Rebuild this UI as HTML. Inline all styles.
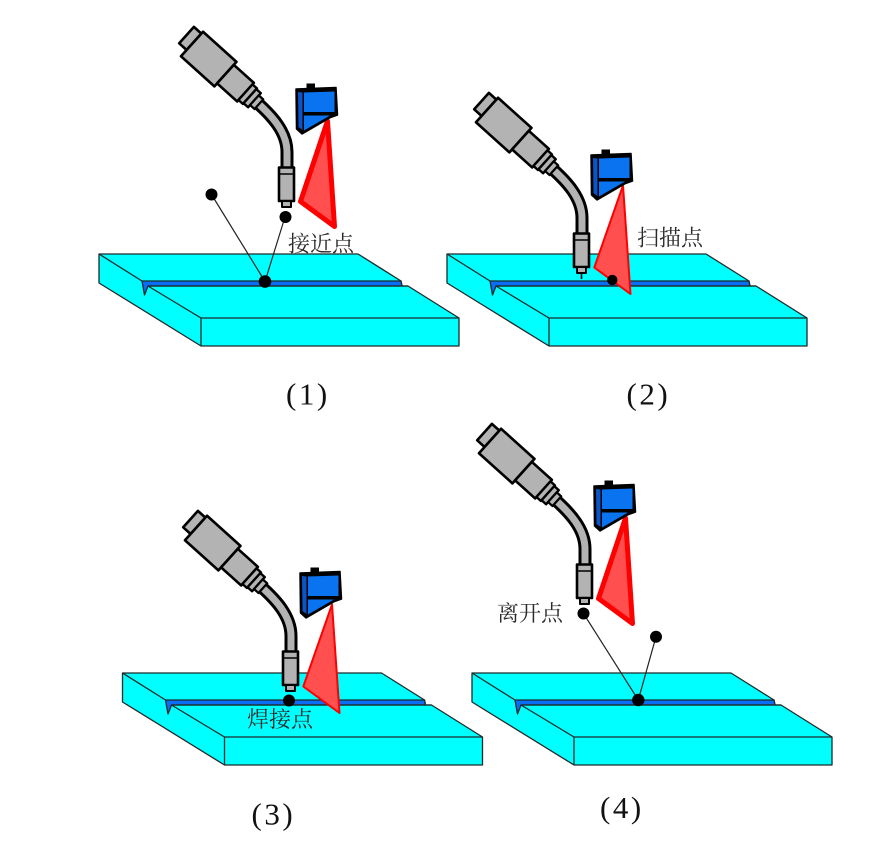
<!DOCTYPE html>
<html>
<head>
<meta charset="utf-8">
<style>
  html, body { margin: 0; padding: 0; background: #ffffff; }
  svg { display: block; }
  .lbl { font-family: "Liberation Serif", "Noto Serif CJK SC", serif; font-size: 22px; fill: #2a2a2a; }
  .num { font-family: "Liberation Serif", "Noto Serif CJK SC", serif; font-size: 31px; fill: #111; letter-spacing: 2.5px; }
</style>
</head>
<body>
<svg width="885" height="861" viewBox="0 0 885 861" xmlns="http://www.w3.org/2000/svg">
  <defs>
    <g id="plate">
      <polygon points="99,254 358,254 401,281 402,286 408,286 459,318 459,346 201,346 99,283" fill="#00ffff" stroke="#1e2a2a" stroke-width="1.3" stroke-linejoin="round"/>
      <polygon points="142,281 401,281 402,286 148,286 144.5,295" fill="#0a6ef5" stroke="#1e2a2a" stroke-width="1.3" stroke-linejoin="round"/>
      <polyline points="99,254 142,281" fill="none" stroke="#1e2a2a" stroke-width="1.3"/>
      <polyline points="148,286 201,318 459,318" fill="none" stroke="#1e2a2a" stroke-width="1.3"/>
      <line x1="201" y1="318" x2="201" y2="346" stroke="#1e2a2a" stroke-width="1.3"/>
      <line x1="148" y1="286" x2="408" y2="286" stroke="#1e2a2a" stroke-width="1.3"/>
    </g>

    <g id="torch" stroke-linejoin="round">
      <path d="M257.4,102.9 C272,116 287,132 287,152 L287,170" fill="none" stroke="#000" stroke-width="13"/>
      <path d="M257.4,102.9 C272,116 287,132 287,152 L287,170" fill="none" stroke="#b3b3b3" stroke-width="7"/>
      <polygon points="193.9,26.9 201.4,33.6 186.6,50.0 179.2,43.3" fill="#b3b3b3" stroke="#000" stroke-width="2.6"/>
      <polygon points="203.04,31.74 236.48,61.85 214.40,86.37 180.96,56.26" fill="#b3b3b3" stroke="#000" stroke-width="2.6"/>
      <polygon points="233.8,64.82 253.86,82.88 237.14,101.46 217.08,83.4" fill="#b3b3b3" stroke="#000" stroke-width="2.6"/>
      <polygon points="252.52,84.37 256.97,88.38 242.93,103.98 238.48,99.97" fill="#b3b3b3" stroke="#000" stroke-width="2.4"/>
      <polygon points="256.31,89.12 260.77,93.14 248.05,107.26 243.59,103.24" fill="#b3b3b3" stroke="#000" stroke-width="2.4"/>
      <polygon points="258.76,95.37 263.22,99.38 254.52,109.04 250.06,105.03" fill="#b3b3b3" stroke="#000" stroke-width="2.2"/>
      <rect x="279" y="167.5" width="15" height="33.5" fill="#b3b3b3" stroke="#000" stroke-width="2.6"/>
      <line x1="279" y1="174" x2="294" y2="174" stroke="#000" stroke-width="1.5"/>
      <rect x="282" y="201" width="9" height="6" fill="#b3b3b3" stroke="#000" stroke-width="2"/>
    </g>

    <g id="sensor">
      <rect x="306.5" y="83.5" width="8.5" height="5.5" fill="#000"/>
      <polygon points="296,89 336,87.5 337.5,115 330.5,117.5 302,134 296.5,129" fill="#000" stroke="#000" stroke-width="1.5" stroke-linejoin="round"/>
      <polygon points="298,92 302.5,92.5 302.5,130 298.5,127" fill="#0a55c8"/>
      <polygon points="304,92.5 334.5,91.5 334.5,112 304,112" fill="#0a73f0"/>
      <polygon points="304,115.5 330,115.5 304,130.5" fill="#0a73f0"/>
    </g>

    <polygon id="laserThick" points="327.5,121 300.5,201.5 334.5,226.5" fill="#ff4f4f" stroke="#ff0000" stroke-width="5" stroke-linejoin="round"/>
    <polygon id="laserThin" points="328,119.5 299.3,201.5 335.5,228" fill="#ff4f4f" stroke="#ff0000" stroke-width="2" stroke-linejoin="round"/>
  </defs>

  <rect x="0" y="0" width="885" height="861" fill="#ffffff"/>

  <!-- Panel 1 -->
  <use href="#plate"/>
  <line x1="211.5" y1="194.5" x2="265" y2="281.5" stroke="#222" stroke-width="1.2"/>
  <line x1="285" y1="217" x2="265" y2="281.5" stroke="#222" stroke-width="1.2"/>
  <use href="#torch"/>
  <use href="#laserThick"/>
  <use href="#sensor"/>
  <circle cx="211.5" cy="194.5" r="6" fill="#000"/>
  <circle cx="285.5" cy="217" r="6" fill="#000"/>
  <circle cx="265" cy="281.5" r="6.3" fill="#000"/>
  <text class="lbl" x="288" y="251.5">接近点</text>
  <text class="num" x="286" y="404.5">(1)</text>

  <!-- Panel 2 -->
  <g transform="translate(348,0)"><use href="#plate"/></g>
  <g transform="translate(295,66)">
    <use href="#torch"/>
    <line x1="286.5" y1="207" x2="286.5" y2="213" stroke="#000" stroke-width="1.6"/>
    <use href="#laserThin"/>
    <use href="#sensor"/>
  </g>
  <circle cx="612.3" cy="280" r="5.2" fill="#000"/>
  <text class="lbl" x="637" y="245.5">扫描点</text>
  <text class="num" x="626.5" y="404.5">(2)</text>

  <!-- Panel 3 -->
  <g transform="translate(23.5,419)"><use href="#plate"/></g>
  <g transform="translate(4,484)">
    <use href="#torch"/>
  </g>
  <g transform="translate(4,485)">
    <use href="#laserThin"/>
  </g>
  <g transform="translate(4,484)">
    <use href="#sensor"/>
  </g>
  <circle cx="289" cy="700.5" r="6" fill="#000"/>
  <text class="lbl" x="247" y="727">焊接点</text>
  <text class="num" x="251.5" y="824.5">(3)</text>

  <!-- Panel 4 -->
  <g transform="translate(373,419)"><use href="#plate"/></g>
  <line x1="583.5" y1="613.5" x2="638.3" y2="700" stroke="#222" stroke-width="1.2"/>
  <line x1="656" y1="636.7" x2="638.3" y2="700" stroke="#222" stroke-width="1.2"/>
  <g transform="translate(298,397)">
    <use href="#torch"/>
    <use href="#laserThick"/>
    <use href="#sensor"/>
  </g>
  <circle cx="583.5" cy="613.5" r="6" fill="#000"/>
  <circle cx="656" cy="636.7" r="6" fill="#000"/>
  <circle cx="638.3" cy="700" r="6.2" fill="#000"/>
  <text class="lbl" x="497" y="621">离开点</text>
  <text class="num" x="600" y="818">(4)</text>
</svg>
</body>
</html>
